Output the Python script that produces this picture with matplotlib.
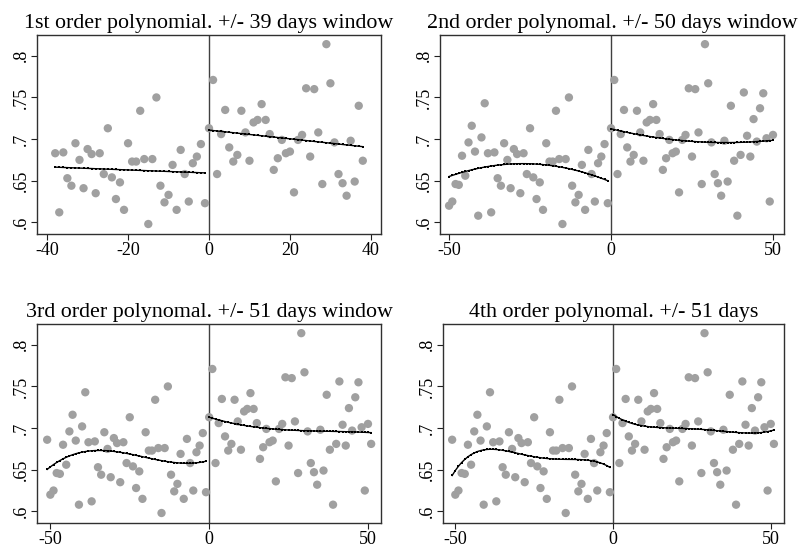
import numpy as np
import matplotlib
matplotlib.use("Agg")
import matplotlib.pyplot as plt

plt.rcParams['font.family'] = ['Liberation Serif', 'DejaVu Serif']

days = list(range(-51, 52))
share = [
    0.686, 0.620, 0.625, 0.646, 0.645, 0.680, 0.656, 0.696, 0.716, 0.685,   # -51..-42
    0.608, 0.702, 0.743, 0.683, 0.612, 0.684, 0.653, 0.644, 0.695, 0.675,   # -41..-32
    0.641, 0.688, 0.682, 0.635, 0.683, 0.658, 0.713, 0.654, 0.628, 0.648,   # -31..-22
    0.615, 0.695, 0.673, 0.673, 0.734, 0.676, 0.598, 0.676, 0.750, 0.644,   # -21..-12
    0.624, 0.633, 0.669, 0.615, 0.687, 0.658, 0.625, 0.671, 0.679, 0.694,   # -11..-2
    0.623,                                                                  # -1
    0.713, 0.771, 0.658, 0.706, 0.735, 0.690, 0.673, 0.681, 0.734, 0.708,   # 0..9
    0.674, 0.720, 0.723, 0.742, 0.723, 0.706, 0.663, 0.677, 0.699, 0.683,   # 10..19
    0.685, 0.636, 0.699, 0.705, 0.761, 0.679, 0.760, 0.708, 0.646, 0.814,   # 20..29
    0.767, 0.696, 0.658, 0.647, 0.632, 0.698, 0.649, 0.740, 0.674, 0.608,   # 30..39
    0.681, 0.756, 0.704, 0.679, 0.724, 0.697, 0.737, 0.755, 0.701, 0.625,   # 40..49
    0.705, 0.681,                                                           # 50..51
]

titles = [
    "1st order polynomial. +/- 39 days window",
    "2nd order polynomal. +/- 50 days window",
    "3rd order polynomal. +/- 51 days window",
    "4th order polynomal. +/- 51 days",
]
windows = [38, 50, 51, 51]
orders = [1, 2, 3, 4]
xticks_list = [[-40, -20, 0, 20, 40], [-50, 0, 50], [-50, 0, 50], [-50, 0, 50]]
xlims = [(-42.5, 42.5), (-52.8, 53.4), (-54.2, 54.1), (-53.9, 54.2)]
yticks = [0.6, 0.65, 0.7, 0.75, 0.8]
yticklabels = [".6", ".65", ".7", ".75", ".8"]

W, H = 798, 550
boxes_px = [(37, 35, 381, 234), (440, 35, 784, 234), (37, 324, 381, 523), (443, 324, 784, 523)]

x_all = np.array(days, dtype=float)
y_all = np.array(share)

fig = plt.figure(figsize=(W / 100, H / 100), dpi=100)
fig.patch.set_facecolor('white')

for i in range(4):
    l, t, r, b = boxes_px[i]
    ax = fig.add_axes([l / W, 1 - b / H, (r - l) / W, (b - t) / H])
    w = windows[i]
    m = np.abs(x_all) <= w
    xs, ys = x_all[m], y_all[m]
    ax.scatter(xs, ys, s=36, color='#a0a0a0', edgecolors='none', zorder=2)
    for side in (xs < 0, xs >= 0):
        xx, yy = xs[side], ys[side]
        coef = np.polyfit(xx, yy, orders[i])
        ax.plot(xx, np.polyval(coef, xx), color='black', lw=1.0,
                marker='s', markersize=1.8, markeredgewidth=0, zorder=3)
    ax.axvline(0, color='#404040', lw=1.0, zorder=1)
    ax.set_xlim(*xlims[i])
    ax.set_ylim(0.586, 0.825)
    ax.set_xticks(xticks_list[i])
    ax.set_xticklabels([str(v) for v in xticks_list[i]])
    ax.set_yticks(yticks)
    ax.set_yticklabels(yticklabels, rotation=90, va='center')
    ax.tick_params(axis='both', direction='out', length=4, width=0.8,
                   labelsize=13, color='#202020')
    ax.tick_params(axis='x', pad=1.5)
    ax.tick_params(axis='y', pad=1)
    for sp in ax.spines.values():
        sp.set_color('#303030')
        sp.set_linewidth(1.0)
    ax.set_title(titles[i], fontsize=15.8, pad=5)

fig.savefig("out.png", dpi=100, facecolor='white')
